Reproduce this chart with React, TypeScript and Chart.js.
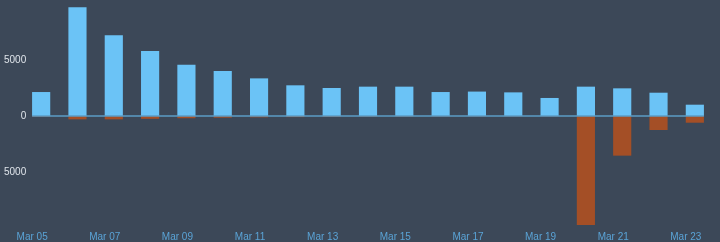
import React, { useEffect, useRef } from "react";
import { Chart, registerables } from "chart.js";

Chart.register(...registerables);

const categories = [
  "Mar 05", "Mar 06", "Mar 07", "Mar 08", "Mar 09", "Mar 10", "Mar 11", "Mar 12",
  "Mar 13", "Mar 14", "Mar 15", "Mar 16", "Mar 17", "Mar 18", "Mar 19", "Mar 20",
  "Mar 21", "Mar 22", "Mar 23",
];
const positiveValues = [
  2140, 9700, 7200, 5800, 4580, 4020, 3360, 2740, 2500, 2620, 2620, 2140, 2180,
  2110, 1610, 2620, 2470, 2080, 1010,
];
const negativeValues = [
  -60, -300, -300, -250, -200, -150, -120, -100, -80, -60, -50, -40, -40, -30,
  -30, -9730, -3540, -1250, -600,
];
const yTicks = [-5000, 0, 5000];

const BG = "#3c4858";

const zeroLinePlugin = {
  id: "zeroLine",
  afterDatasetsDraw(chart: any) {
    const y = chart.scales.y.getPixelForValue(0);
    const meta = chart.getDatasetMeta(0);
    const first = meta.data[0] as any;
    const last = meta.data[meta.data.length - 1] as any;
    const ctx = chart.ctx;
    ctx.save();
    ctx.strokeStyle = "#5b9cc6";
    ctx.lineWidth = 1.5;
    ctx.beginPath();
    ctx.moveTo(first.x - first.width / 2, y);
    ctx.lineTo(last.x + last.width / 2, y);
    ctx.stroke();
    ctx.restore();
  },
};

const bgPlugin = {
  id: "bg",
  beforeDraw(chart: any) {
    const ctx = chart.ctx;
    ctx.save();
    ctx.fillStyle = BG;
    ctx.fillRect(0, 0, chart.width, chart.height);
    ctx.restore();
  },
};

export default function App() {
  const ref = useRef<HTMLCanvasElement>(null);
  useEffect(() => {
    document.body.style.margin = "0";
    document.body.style.background = BG;
    const chart = new Chart(ref.current!, {
      type: "bar",
      data: {
        labels: categories,
        datasets: [
          {
            data: positiveValues,
            backgroundColor: "#6bc3f6",
            barPercentage: 0.5,
            categoryPercentage: 1,
          },
          {
            data: negativeValues,
            backgroundColor: "#a44f26",
            barPercentage: 0.5,
            categoryPercentage: 1,
          },
        ],
      },
      options: {
        animation: false,
        responsive: false,
        maintainAspectRatio: false,
        layout: { padding: { top: 4, right: 7, left: 0, bottom: 0 } },
        plugins: { legend: { display: false }, tooltip: { enabled: false } },
        scales: {
          x: {
            stacked: true,
            grid: { display: false, drawTicks: false },
            border: { display: false },
            ticks: {
              autoSkip: false,
              maxRotation: 0,
              minRotation: 0,
              padding: 3,
              labelOffset: -9,
              color: "#5aa3d6",
              font: { family: "Liberation Sans", size: 10 },
              callback: (_v: any, i: number) => (i % 2 === 0 ? categories[i] : ""),
            },
            afterFit: (s: any) => {
              s.height = 14;
            },
          },
          y: {
            stacked: true,
            min: -10000,
            max: 10000,
            grid: { display: false, drawTicks: false },
            border: { display: false },
            afterBuildTicks: (s: any) => {
              s.ticks = yTicks.map((v) => ({ value: v }));
            },
            ticks: {
              mirror: true,
              crossAlign: "far",
              padding: -19,
              color: "#dfe4ea",
              font: { family: "Liberation Sans", size: 10 },
              callback: (v: any) => String(Math.abs(Number(v))),
            },
            afterFit: (s: any) => {
              s.width = 23;
            },
          },
        },
      },
      plugins: [bgPlugin, zeroLinePlugin],
    });
    return () => chart.destroy();
  }, []);
  return (
    <div style={{ width: 720, height: 242, background: BG }}>
      <canvas ref={ref} width={720} height={242} style={{ display: "block" }} />
    </div>
  );
}
